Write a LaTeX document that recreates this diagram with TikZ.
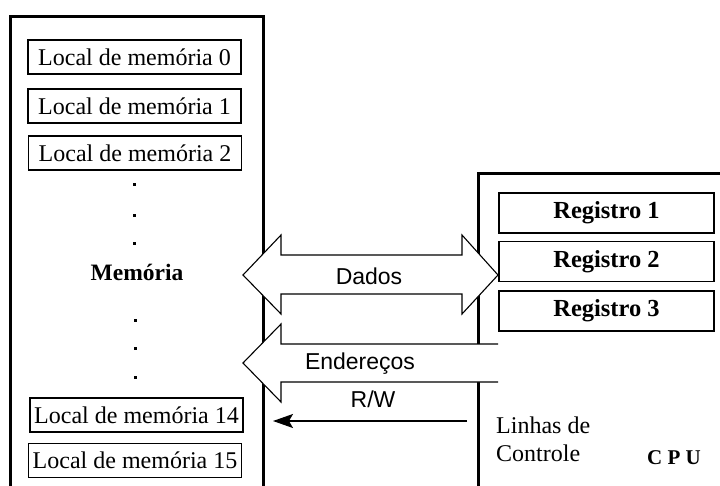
\documentclass[tikz,border=0pt]{standalone}
\usepackage{fontspec}
\setmainfont{Liberation Serif}
\setsansfont{Liberation Sans}
\usetikzlibrary{arrows.meta}
\begin{document}
\begin{tikzpicture}[x=1pt,y=-1pt,
  thickframe/.style={line width=3pt},
  locbox/.style={draw, line width=1.5pt, minimum width=213pt, minimum height=34pt, inner sep=0pt, font=\fontsize{24}{26}\selectfont},
  regbox/.style={draw, line width=1.5pt, minimum width=215pt, minimum height=40pt, inner sep=0pt, font=\fontsize{24.5}{26}\selectfont\bfseries},
  bus/.style={fill=white, draw, line width=1.1pt, line join=miter},
  sanslabel/.style={font=\sffamily\fontsize{23}{26}\selectfont, inner sep=0pt},
  serlabel/.style={font=\fontsize{24}{28}\selectfont, inner sep=0pt},
  memdot/.style={fill=black, minimum size=3pt, inner sep=0pt}]
\useasboundingbox (0,0) rectangle (720,485);
\fill[white] (0,0) rectangle (720,485);
% memory frame
\draw[thickframe] (10,486) -- (10,16) -- (263,16) -- (263,486);
% CPU frame
\draw[thickframe] (478,486) -- (478,173) -- (721,173);
% memory locations
\node[locbox] (m0) at (134.5,57) {Local de memória 0};
\node[locbox] (m1) at (134.5,106) {Local de memória 1};
\node[locbox] (m2) at (135,153) {Local de memória 2};
\node[locbox] (m14) at (136.5,415) {Local de memória 14};
\node[locbox] (m15) at (135,460.5) {Local de memória 15};
\node[memdot] (d1) at (134,184) {};
\node[memdot] (d2) at (134,215) {};
\node[memdot] (d3) at (134,243) {};
\node[memdot] (d4) at (135,320) {};
\node[memdot] (d5) at (135,348) {};
\node[memdot] (d6) at (135,377) {};
\node[serlabel, font=\fontsize{23.5}{26}\selectfont\bfseries] (mem) at (137,272) {Memória};
% registers
\node[regbox] (r1) at (606.5,213) {Registro 1};
\node[regbox] (r2) at (606.5,261.5) {Registro 2};
\node[regbox] (r3) at (606.5,311) {Registro 3};
% data bus (double arrow)
\draw[bus] (243,275) -- (281,235) -- (281,255) -- (462,255) -- (462,235) -- (498,275)
  -- (462,314) -- (462,294) -- (281,294) -- (281,314) -- cycle;
\node[sanslabel] (dados) at (369,276) {Dados};
% address bus
\fill[white] (243,363) -- (281,324) -- (281,344) -- (498,344) -- (498,382) -- (281,382) -- (281,402) -- cycle;
\draw[line width=1.1pt, line join=miter] (498,344) -- (281,344) -- (281,324) -- (243,363) -- (281,402) -- (281,382) -- (498,382);
\node[sanslabel] (end) at (360,364) {Endereços};
% R/W control line
\coordinate (rwstart) at (467,421);
\coordinate (rwend) at (273,421);
\draw[line width=1.1pt, -{Stealth[length=20pt,width=14pt,inset=4pt]}] (rwstart) -- (rwend);
\node[sanslabel] (rw) at (373,399) {R/W};
\node[serlabel, anchor=west, align=left] (linhas) at (496,439) {Linhas de\\Controle};
\node[serlabel, font=\fontsize{21}{24}\selectfont\bfseries] (cpu) at (674,458) {C P U};
\end{tikzpicture}
\end{document}
